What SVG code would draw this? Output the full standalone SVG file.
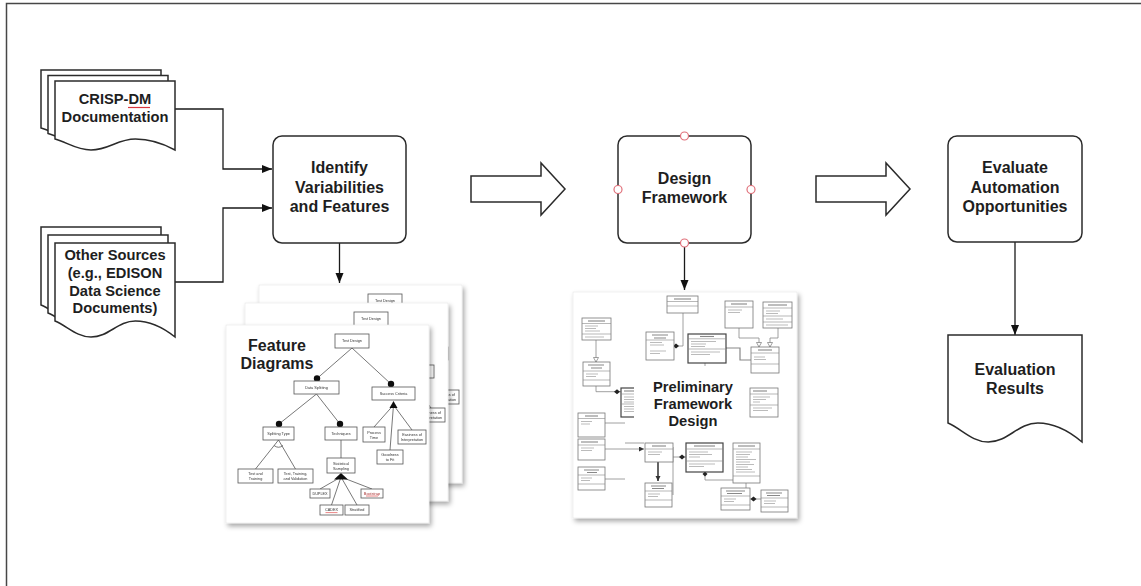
<svg xmlns="http://www.w3.org/2000/svg" xmlns:xlink="http://www.w3.org/1999/xlink" width="1141" height="586" viewBox="0 0 1141 586">
  <style>
    .shape { fill: #fff; stroke: #2b2b2b; stroke-width: 1.5; }
    .conn { fill: none; stroke: #1a1a1a; stroke-width: 1.3; }
    .lbl { font-family: "Liberation Sans", Arial, sans-serif; font-weight: bold; font-size: 16px; text-anchor: middle; fill: #1e1e1e; }
    .lbl-doc { font-family: "Liberation Sans", Arial, sans-serif; font-weight: bold; font-size: 14.7px; text-anchor: middle; fill: #1e1e1e; }
    .port { fill: #fff; stroke: #e0707a; stroke-width: 1.2; }
    .page { fill: #fff; stroke: #e6e6e6; stroke-width: 0.6; }
    .fbox { fill: #fff; stroke: #555; stroke-width: 0.8; }
    .fline { fill: none; stroke: #555; stroke-width: 0.8; }
    .ftxt { font-family: "Liberation Sans", Arial, sans-serif; font-size: 3.8px; text-anchor: middle; fill: #333; }
    .ubox { fill: #fff; stroke: #777; stroke-width: 0.8; }
    .ubold { fill: #fff; stroke: #444; stroke-width: 1.2; }
    .usep { stroke: #888; stroke-width: 0.6; }
    .uhead { stroke: #888; stroke-width: 1.1; }
    .urow { stroke: #bbb; stroke-width: 1; }
    .ulink { fill: none; stroke: #888; stroke-width: 0.8; }
  </style>
  <defs>
    <marker id="arrow" markerUnits="userSpaceOnUse" markerWidth="11" markerHeight="9" refX="10" refY="4" orient="auto">
      <path d="M0,0 L10,4 L0,8 Z" fill="#111"/>
    </marker>
    <marker id="arrowSmall" markerUnits="userSpaceOnUse" markerWidth="6" markerHeight="6" refX="5" refY="2.5" orient="auto">
      <path d="M0,0 L5,2.5 L0,5 Z" fill="#333"/>
    </marker>
    <filter id="shadow" x="-10%" y="-10%" width="125%" height="125%">
      <feDropShadow dx="2" dy="3" stdDeviation="2.5" flood-color="#000" flood-opacity="0.35"/>
    </filter>

    <!-- document shapes with wavy bottom edge -->
    <path id="docCrisp" d="M55,81 H175 V150 C163,143.4 151,139 135.4,139 C117.4,139 109,150 91,150 C76.6,150 67,142.3 55,139 Z"/>
    <path id="docOther" d="M55,243 H175 V337 C163,327.4 151,321 135.4,321 C117.4,321 109,337 91,337 C76.6,337 67,325.8 55,321 Z"/>

    <!-- one feature-diagram sheet, drawn at the position of the front sheet -->
    <g id="fdPage">
      <rect class="page" x="226" y="325" width="203" height="198"/>
      <g class="fline">
        <path d="M352,348 L317,378.5 M352,348 L391,384"/>
        <path d="M316.5,394 L279,424 M316.5,394 L340,424"/>
        <path d="M393.5,405 L374,427 M393.5,405 L390,450 M393.5,405 L412,430"/>
        <path d="M278.5,440 L255.5,469 M278.5,440 L295.5,469"/>
        <path d="M274,445.5 Q278.5,449 283,445.5"/>
        <path d="M341,440 V458"/>
        <path d="M341,477 L320,489 M341,477 L331.5,505 M341,477 L357,505 M341,477 L372,489"/>
      </g>
      <g fill="#111">
        <circle cx="317" cy="378.5" r="3.2"/>
        <circle cx="391" cy="384" r="3.2"/>
        <circle cx="279" cy="424" r="3.2"/>
        <circle cx="340" cy="424" r="3.2"/>
        <polygon points="393.5,401 389.5,408 397.5,408"/>
        <polygon points="341,473 334,479.5 348,479.5"/>
      </g>
      <rect class="fbox" x="335" y="334" width="34" height="14"/>
      <rect class="fbox" x="294" y="381" width="45" height="13"/>
      <rect class="fbox" x="372" y="387" width="43" height="13"/>
      <rect class="fbox" x="263" y="427" width="31" height="13"/>
      <rect class="fbox" x="325" y="427" width="32" height="13"/>
      <rect class="fbox" x="363" y="427" width="22" height="15"/>
      <rect class="fbox" x="377" y="450" width="26" height="14"/>
      <rect class="fbox" x="398" y="430" width="28" height="14"/>
      <rect class="fbox" x="238" y="469" width="35" height="14"/>
      <rect class="fbox" x="278" y="469" width="35" height="14"/>
      <rect class="fbox" x="327" y="458" width="28" height="15"/>
      <rect class="fbox" x="310" y="489" width="20" height="9"/>
      <rect class="fbox" x="320" y="505" width="23" height="10"/>
      <rect class="fbox" x="345" y="505" width="24" height="10"/>
      <rect class="fbox" x="361" y="489" width="22" height="9"/>
      <g class="ftxt">
        <text x="352" y="342.3">Test Design</text>
        <text x="316.5" y="388.8">Data Splitting</text>
        <text x="393.5" y="394.8">Success Criteria</text>
        <text x="278.5" y="434.8">Splitting Type</text>
        <text x="341" y="434.8">Techniques</text>
        <text x="374" y="433.5">Process</text>
        <text x="374" y="438.5">Time</text>
        <text x="390" y="456">Goodness</text>
        <text x="390" y="461">to Fit</text>
        <text x="412" y="436">Easiness of</text>
        <text x="412" y="441">Interpretation</text>
        <text x="255.5" y="475">Test and</text>
        <text x="255.5" y="480">Training</text>
        <text x="295.5" y="475">Test, Training,</text>
        <text x="295.5" y="480">and Validation</text>
        <text x="341" y="464.5">Statistical</text>
        <text x="341" y="469.5">Sampling</text>
        <text x="320" y="494.8">DUPLEX</text>
        <text x="331.5" y="511.3">CADEX</text>
        <text x="357" y="511.3">Stratified</text>
        <text x="372" y="494.8" fill="#a33">Bootstrap</text>
      </g>
      <path d="M325.5,512.6 H337.5 M366,496 H378" stroke="#d33" stroke-width="0.6"/>
    </g>
  </defs>

  <rect width="1141" height="586" fill="#fff"/>
  <!-- outer frame -->
  <rect x="6.5" y="3.5" width="1150" height="600" fill="none" stroke="#474747" stroke-width="1.5"/>

  <!-- connectors -->
  <g id="connectors">
    <path class="conn" d="M175,109 H223 V169 H272" marker-end="url(#arrow)"/>
    <path class="conn" d="M175,282 H223 V208 H272" marker-end="url(#arrow)"/>
    <path class="conn" d="M339.5,243 V283" marker-end="url(#arrow)"/>
    <path class="conn" d="M684.5,247 V290" marker-end="url(#arrow)"/>
    <path class="conn" d="M1015,242 V335" marker-end="url(#arrow)"/>
  </g>

  <!-- source documents -->
  <g id="crisp-dm-docs">
    <use xlink:href="#docCrisp" class="shape" transform="translate(-14,-11)"/>
    <use xlink:href="#docCrisp" class="shape" transform="translate(-7,-5.5)"/>
    <use xlink:href="#docCrisp" class="shape"/>
    <text class="lbl-doc" x="115" y="104">CRISP-DM</text>
    <text class="lbl-doc" x="115" y="122">Documentation</text>
    <path d="M128,107.5 H150" stroke="#d9363e" stroke-width="1.2"/>
  </g>

  <g id="other-sources-docs">
    <use xlink:href="#docOther" class="shape" transform="translate(-14,-16)"/>
    <use xlink:href="#docOther" class="shape" transform="translate(-7,-8)"/>
    <use xlink:href="#docOther" class="shape"/>
    <text class="lbl-doc" x="115" y="260">Other Sources</text>
    <text class="lbl-doc" x="115" y="278">(e.g., EDISON</text>
    <text class="lbl-doc" x="115" y="295.5">Data Science</text>
    <text class="lbl-doc" x="115" y="313">Documents)</text>
  </g>

  <!-- process steps -->
  <g id="identify-variabilities">
    <rect class="shape" x="273" y="136" width="133" height="107" rx="9"/>
    <text class="lbl" x="339.5" y="173.3">Identify</text>
    <text class="lbl" x="339.5" y="192.7">Variabilities</text>
    <text class="lbl" x="339.5" y="212.3">and Features</text>
  </g>

  <g id="design-framework">
    <rect class="shape" x="618" y="136" width="133" height="107" rx="9"/>
    <text class="lbl" x="684.5" y="184">Design</text>
    <text class="lbl" x="684.5" y="203.3">Framework</text>
    <circle class="port" cx="684.5" cy="136" r="4"/>
    <circle class="port" cx="618" cy="189.5" r="4"/>
    <circle class="port" cx="751" cy="189.5" r="4"/>
    <circle class="port" cx="684.5" cy="243" r="4"/>
  </g>

  <g id="evaluate-automation">
    <rect class="shape" x="948" y="136" width="134" height="106" rx="9"/>
    <text class="lbl" x="1015" y="173.3">Evaluate</text>
    <text class="lbl" x="1015" y="192.7">Automation</text>
    <text class="lbl" x="1015" y="212.3">Opportunities</text>
  </g>

  <g id="evaluation-results">
    <path class="shape" d="M948,335 H1082 V442 C1068.6,430.6 1055.2,423 1037.8,423 C1017.7,423 1008.3,442 988.2,442 C972.1,442 961.4,428.7 948,423 Z"/>
    <text class="lbl" x="1015" y="375">Evaluation</text>
    <text class="lbl" x="1015" y="394">Results</text>
  </g>

  <!-- block arrows between phases -->
  <g id="phase-arrow-1">
    <polygon class="shape" points="471,176 541,176 541,163 565,189 541,215 541,202 471,202"/>
  </g>
  <g id="phase-arrow-2">
    <polygon class="shape" points="816,176 886,176 886,163 910,189 886,215 886,202 816,202"/>
  </g>

  <!-- stacked feature diagram sheets -->
  <g id="feature-diagrams">
    <use xlink:href="#fdPage" transform="translate(33,-40)" filter="url(#shadow)"/>
    <use xlink:href="#fdPage" transform="translate(19,-22)" filter="url(#shadow)"/>
    <use xlink:href="#fdPage" filter="url(#shadow)"/>
    <text class="lbl" x="277" y="350.5">Feature</text>
    <text class="lbl" x="277" y="368.5">Diagrams</text>
  </g>

  <!-- preliminary framework design sheet (class model) -->
  <g id="framework-design">
    <rect class="page" x="573" y="292" width="224" height="226" filter="url(#shadow)"/>

    <!-- links between classes -->
    <g class="ulink">
      <path d="M683,313 V346 H676"/>
      <path d="M739,328 V338 H759 V347"/>
      <path d="M778,328 V338 H770 V347"/>
      <path d="M726,348 H740 V360 H751" stroke-width="1.2"/>
      <path d="M596,340 V362"/>
      <path d="M596,386 V391.7 H621"/>
      <path d="M605,423 H625"/>
      <path d="M605,449 H644" marker-end="url(#arrowSmall)"/>
      <path d="M625,443 H644"/>
      <path d="M605,479 H625"/>
      <path d="M673,447 V495"/>
      <path d="M673,457 H686"/>
      <path d="M705,472 V480 H735"/>
      <path d="M746,483 V488"/>
      <path d="M750,499 H761"/>
      <path d="M705,363 V366"/>
    </g>
    <path d="M658,462 V481" stroke="#222" stroke-width="1.4" marker-end="url(#arrowSmall)"/>
    <g fill="#222">
      <polygon points="676,343.5 679,346 676,348.5 673,346"/>
      <polygon points="617,389.2 620,391.7 617,394.2 614,391.7"/>
      <polygon points="682,454.5 685,457 682,459.5 679,457"/>
      <polygon points="705,471.5 707.5,474 705,476.5 702.5,474"/>
      <polygon points="753.5,496.5 756.5,499 753.5,501.5 750.5,499"/>
    </g>
    <g fill="#fff" stroke="#777" stroke-width="0.7">
      <polygon points="596,362 593.5,357.5 598.5,357.5"/>
      <polygon points="759,347 756.5,342.5 761.5,342.5"/>
      <polygon points="770,347 767.5,342.5 772.5,342.5"/>
    </g>

    <!-- classes -->
    <rect class="ubox" x="667" y="296" width="31" height="17"/>
    <path class="uhead" d="M674,299 H691"/>
    <path class="usep" d="M667,301.5 H698 M667,306 H698"/>

    <rect class="ubox" x="646" y="332" width="28" height="28"/>
    <path class="uhead" d="M652,335 H668 M654,338 H666"/>
    <path class="usep" d="M646,340 H674"/>
    <path class="urow" d="M650,342.5 H662 M650,345 H664 M650,351 H666 M650,353.5 H660"/>

    <rect class="ubold" x="688" y="334" width="38" height="29"/>
    <path class="uhead" d="M700,336.5 H714"/>
    <path class="usep" d="M688,338.8 H726 M688,349 H726"/>
    <path class="urow" d="M691,341.5 H716 M691,344 H706 M691,346.5 H705 M691,352 H720 M691,354.5 H710"/>

    <rect class="ubox" x="725" y="301" width="28" height="27"/>
    <path class="uhead" d="M731,304 H747"/>
    <path class="usep" d="M725,307 H753"/>
    <path class="urow" d="M728,310 H742 M728,312.5 H740"/>

    <rect class="ubox" x="763" y="302" width="29" height="26"/>
    <path class="uhead" d="M768,305 H787"/>
    <path class="usep" d="M763,308 H792 M763,316 H792 M763,322 H792"/>
    <path class="urow" d="M766,311 H780 M766,313.5 H778 M766,319 H783 M766,325 H788"/>

    <rect class="ubox" x="751" y="347" width="28" height="26"/>
    <path class="uhead" d="M758,350 H772"/>
    <path class="usep" d="M751,353 H779 M751,364 H779"/>
    <path class="urow" d="M754,357 H765 M754,359.5 H766"/>

    <rect class="ubox" x="582" y="318" width="29" height="22"/>
    <path class="uhead" d="M588,321 H605"/>
    <path class="usep" d="M582,323.5 H611 M582,334 H611"/>
    <path class="urow" d="M585,326 H598 M585,328.5 H596 M585,331 H600 M585,337 H604"/>

    <rect class="ubox" x="583" y="362" width="27" height="24"/>
    <path class="uhead" d="M588,365 H604 M591,368 H602"/>
    <path class="usep" d="M583,371 H610 M583,380 H610"/>
    <path class="urow" d="M586,374 H598 M586,376.5 H596"/>

    <rect class="ubold" x="621" y="388" width="36" height="29"/>
    <path class="uhead" d="M624,391 H634"/>
    <path class="usep" d="M621,394 H657 M621,404 H657"/>
    <path class="urow" d="M624,397 H640 M624,399.5 H638 M624,402 H640 M624,406.5 H640 M624,409 H638 M624,411.5 H640"/>

    <rect class="ubox" x="750" y="388" width="28" height="29"/>
    <path class="uhead" d="M753,391 H767"/>
    <path class="usep" d="M750,394 H778 M750,405 H778"/>
    <path class="urow" d="M753,397 H770 M753,399.5 H766 M753,402 H760 M753,408 H772 M753,410.5 H768"/>

    <rect class="ubox" x="578" y="413" width="27" height="24"/>
    <path class="uhead" d="M585,416 H598"/>
    <path class="usep" d="M578,418.5 H605"/>
    <path class="urow" d="M581,421.5 H592 M581,424 H590"/>

    <rect class="ubox" x="578" y="439" width="27" height="21"/>
    <path class="uhead" d="M581,442 H598"/>
    <path class="usep" d="M578,445 H605"/>
    <path class="urow" d="M581,448 H594 M581,450.5 H592"/>

    <rect class="ubox" x="578" y="467" width="27" height="23"/>
    <path class="uhead" d="M584,470 H599 M587,472.5 H597"/>
    <path class="usep" d="M578,475 H605 M578,484 H605"/>
    <path class="urow" d="M581,478 H592 M581,480.5 H590"/>

    <rect class="ubox" x="645" y="443" width="28" height="19"/>
    <path class="uhead" d="M652,446 H666"/>
    <path class="usep" d="M645,449 H673"/>
    <path class="urow" d="M648,452 H662 M648,454.5 H660"/>

    <rect class="ubox" x="645" y="483" width="27" height="24"/>
    <path class="uhead" d="M651,486 H666 M652,488.5 H664"/>
    <path class="usep" d="M645,491 H672 M645,500 H672"/>
    <path class="urow" d="M648,494 H660 M648,496.5 H658"/>

    <rect class="ubold" x="686" y="443" width="37" height="29"/>
    <path class="uhead" d="M694,446 H715"/>
    <path class="usep" d="M686,449 H723 M686,461 H723"/>
    <path class="urow" d="M689,452 H708 M689,454.5 H712 M689,457 H700 M689,464 H715 M689,466.5 H704"/>

    <rect class="ubox" x="733" y="443" width="27" height="40"/>
    <path class="uhead" d="M738,446 H755"/>
    <path class="usep" d="M733,449 H760 M733,476 H760"/>
    <path class="urow" stroke="#888" d="M736,452 H752 M736,454.5 H750 M736,457 H748 M736,459.5 H756 M736,462 H750 M736,464.5 H754 M736,467 H748 M736,469.5 H752 M736,472 H755"/>

    <rect class="ubox" x="721" y="488" width="29" height="22"/>
    <path class="uhead" d="M726,491 H745 M727,493.5 H742"/>
    <path class="usep" d="M721,496 H750 M721,505 H750"/>
    <path class="urow" d="M724,499 H736 M724,501.5 H734"/>

    <rect class="ubox" x="761" y="490" width="27" height="22"/>
    <path class="uhead" d="M766,493 H782 M767,495.5 H780"/>
    <path class="usep" d="M761,498 H788 M761,507 H788"/>
    <path class="urow" d="M764,501 H776 M764,503.5 H775"/>

    <!-- title area -->
    <rect x="634" y="371" width="113" height="58" fill="#fff"/>
    <text class="lbl-doc" x="693" y="391.7">Preliminary</text>
    <text class="lbl-doc" x="693" y="408.5">Framework</text>
    <text class="lbl-doc" x="693" y="425.5">Design</text>
  </g>
</svg>
